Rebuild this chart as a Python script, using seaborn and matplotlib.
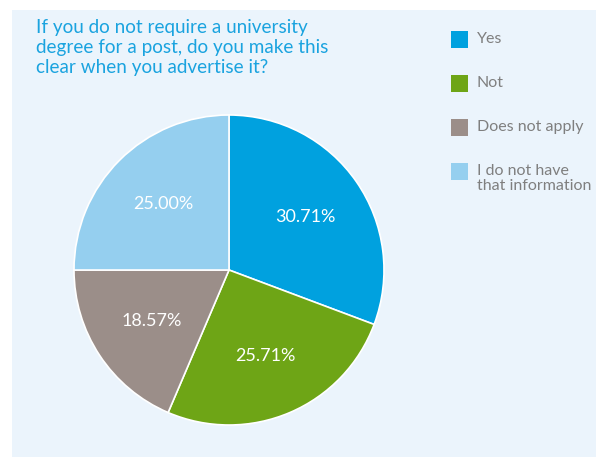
import matplotlib
matplotlib.use("Agg")
import matplotlib.pyplot as plt
from matplotlib.patches import Rectangle
import seaborn as sns

# Survey answers
categories = ["Yes", "Not", "Does not apply", "I do not have\nthat information"]
shares = [30.71, 25.71, 18.57, 25.00]
slice_colors = ["#00A1DF", "#6EA516", "#9B8E89", "#95CFEF"]

title = "If you do not require a university\ndegree for a post, do you make this\nclear when you advertise it?"

sns.set_theme(style="white")
plt.rcParams["font.family"] = ["Lato", "DejaVu Sans"]

W, H = 596, 457
fig = plt.figure(figsize=(W / 100, H / 100), dpi=100)
fig.patch.set_facecolor("white")

# light panel behind the chart
fig.patches.append(Rectangle((12 / W, 0), 1 - 12 / W, 1 - 10 / H,
                             transform=fig.transFigure, facecolor="#EBF4FC",
                             edgecolor="none", zorder=-5))

cx, cy, r = 229, 270, 155
ax = fig.add_axes([(cx - r) / W, (H - cy - r) / H, 2 * r / W, 2 * r / H])
ax.set_facecolor("none")
ax.set_zorder(3)

palette = sns.color_palette(slice_colors)
wedges, texts, autotexts = ax.pie(
    shares, colors=palette, startangle=90, counterclock=False,
    autopct=lambda p: f"{p:.2f}%", pctdistance=0.6,
    wedgeprops=dict(edgecolor="white", linewidth=1.2),
    textprops=dict(color="white", fontsize=13),
)
ax.set_aspect("equal")
ax.set_xlim(-1, 1)
ax.set_ylim(-1, 1)
ax.axis("off")

fig.text(36 / W, 1 - 19 / H, title, color="#1AA3DF", fontsize=13.6,
         va="top", ha="left", linespacing=1.22)

# legend drawn as swatches with labels
legend_y = [39, 83, 127, 171]
for lab, col, y in zip(categories, slice_colors, legend_y):
    fig.patches.append(Rectangle((451 / W, 1 - (y + 8.5) / H), 17 / W, 17 / H,
                                 transform=fig.transFigure, facecolor=col,
                                 edgecolor="none", zorder=2))
    fig.text(477 / W, 1 - (y - 7) / H, lab, color="#7F7F7F", fontsize=11.5,
             va="top", ha="left", linespacing=1.12)

fig.savefig("out.png", dpi=100)
